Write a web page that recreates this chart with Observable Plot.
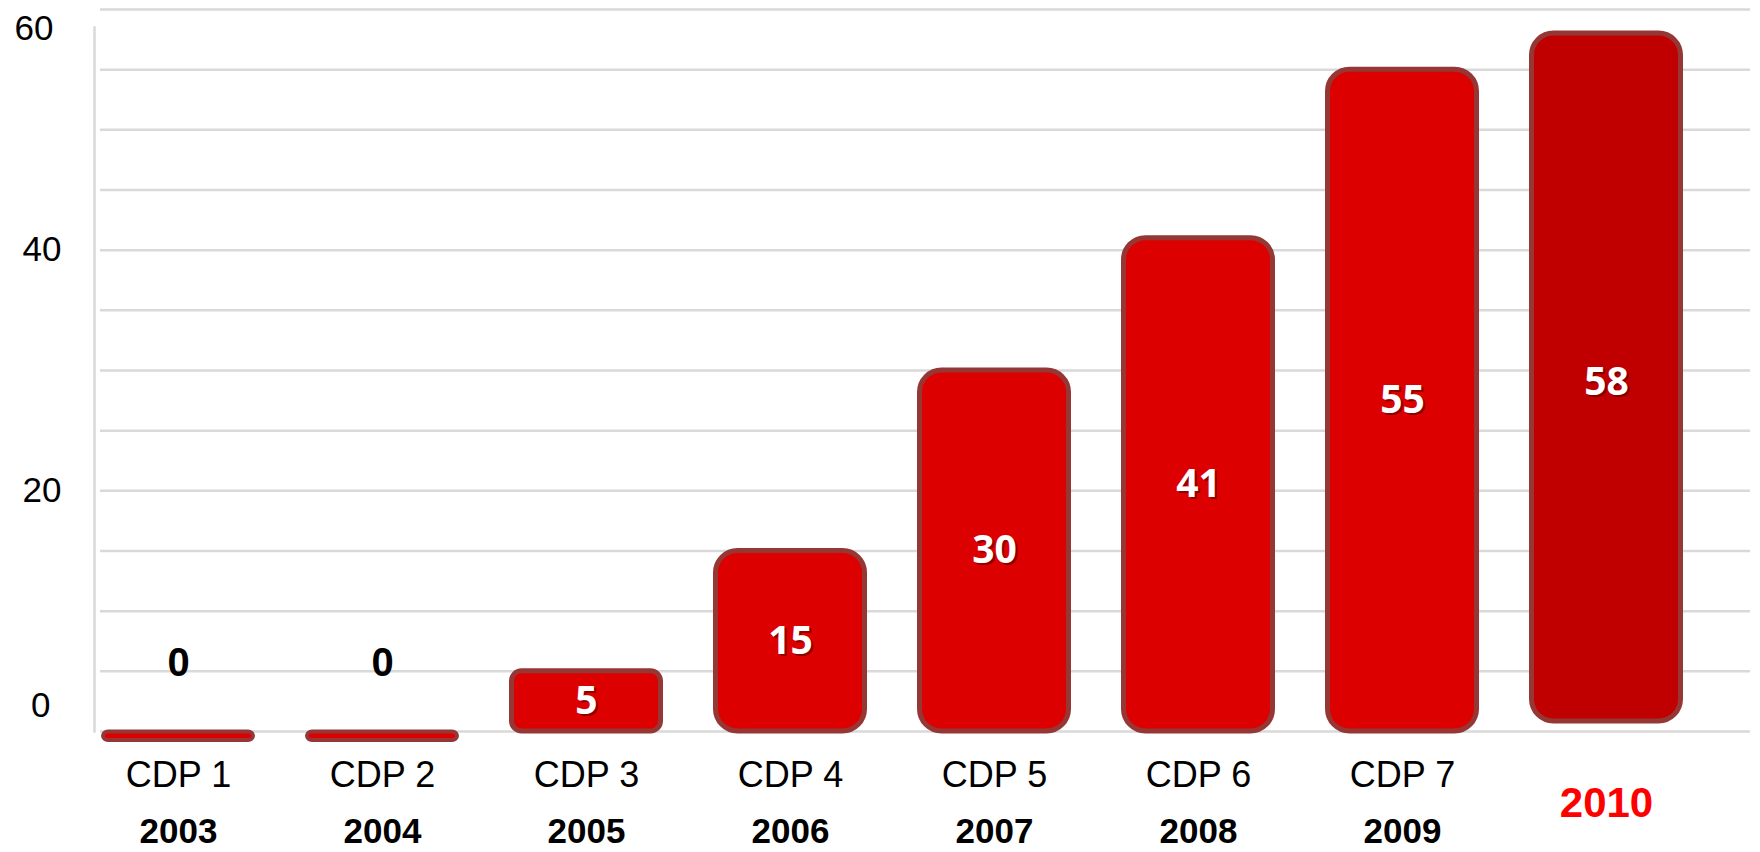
<!DOCTYPE html>
<html>
<head>
<meta charset="utf-8">
<script src="https://cdn.jsdelivr.net/npm/d3@7"></script>
<script src="https://cdn.jsdelivr.net/npm/@observablehq/plot@0.6"></script>
<style>
  html, body { margin: 0; padding: 0; background: #ffffff; }
  #chart svg { display: block; }
</style>
</head>
<body>
<div id="chart"></div>
<script>
// ---- data ----
const years = ["2003", "2004", "2005", "2006", "2007", "2008", "2009", "2010"];
const editions = ["CDP 1", "CDP 2", "CDP 3", "CDP 4", "CDP 5", "CDP 6", "CDP 7", ""];
const values = [0, 0, 5, 15, 30, 41, 55, 58];
const yTickLabels = [0, 20, 40, 60];
const highlightYear = "2010";

// ---- build table ----
const data = years.map((year, i) => ({year, edition: editions[i], value: values[i]}));
const editionOf = Object.fromEntries(data.map(d => [d.year, d.edition]));

const RED = "#dd0000";
const DARK_RED = "#c00000";
const EDGE = "#953735";
const GRID = "#d9d9d9";
const SANS = "Liberation Sans, Arial, sans-serif";

const barMarks = data.map(d => {
  if (d.value === 0) {
    return Plot.barY([d], {
      x: "year", y: "value",
      fill: RED, stroke: EDGE, strokeWidth: 4,
      insetLeft: 2, insetRight: 2, insetTop: 0.5, insetBottom: -9,
      rx: 5
    });
  }
  const hl = d.year === highlightYear;
  return Plot.barY([d], {
    x: "year", y: "value",
    fill: hl ? DARK_RED : RED, stroke: EDGE, strokeWidth: 5,
    insetLeft: 2.5, insetRight: 2.5, insetBottom: hl ? 10 : 0,
    rx: d.value < 10 ? 10 : 22
  });
});

const nonZero = data.filter(d => d.value > 0);
const zeros = data.filter(d => d.value === 0);

const chart = Plot.plot({
  width: 1760,
  height: 852,
  marginLeft: 97,
  marginRight: 10,
  marginTop: 9,
  marginBottom: 121,
  style: {fontFamily: SANS, background: "#ffffff", color: "#000000"},
  x: {type: "band", domain: years, range: [99, 1684], paddingInner: 0.247, paddingOuter: 0, axis: null, label: null},
  y: {domain: [0, 60], axis: null, label: null},
  marks: [
    Plot.gridY({interval: 5, stroke: GRID, strokeOpacity: 1, strokeWidth: 2.5, insetLeft: 3}),
    Plot.frame({anchor: "left", stroke: GRID, strokeOpacity: 1, strokeWidth: 2.5, insetTop: 18, dx: -3}),
    // y axis labels
    Plot.axisY({ticks: yTickLabels.filter(v => v > 0 && v < 60), label: null, tickSize: 0, tickPadding: 36, fontSize: 35, fontFamily: SANS}),
    Plot.axisY({ticks: yTickLabels.filter(v => v === 0), label: null, tickSize: 0, tickPadding: 36, dx: -11, dy: -26, fontSize: 35, fontFamily: SANS}),
    Plot.axisY({ticks: yTickLabels.filter(v => v === 60), label: null, tickSize: 0, tickPadding: 36, dx: -8, dy: 19, fontSize: 35, fontFamily: SANS}),
    ...barMarks,
    // value labels inside bars (with shadow)
    Plot.text(nonZero, {x: "year", y: d => d.value / 2, text: d => String(d.value),
      fill: "#5a0000", fillOpacity: 0.6, dx: 2, dy: 2, fontSize: 39, fontWeight: "bold", fontFamily: "Open Sans, sans-serif"}),
    Plot.text(nonZero, {x: "year", y: d => d.value / 2, text: d => String(d.value),
      fill: "#ffffff", fontSize: 39, fontWeight: "bold", fontFamily: "Open Sans, sans-serif"}),
    // zero labels above
    Plot.text(zeros, {x: "year", y: "value", text: d => String(d.value), dy: -68,
      fill: "#000000", fontSize: 40, fontWeight: "bold", fontFamily: SANS}),
    // x axis: edition labels
    Plot.axisX({label: null, tickSize: 0, tickPadding: 30, tickFormat: y => editionOf[y], fontSize: 36, fontFamily: SANS}),
    // x axis: years
    Plot.axisX({ticks: years.filter(y => y !== highlightYear), label: null, tickSize: 0, tickPadding: 87,
      fontSize: 35, fontWeight: "bold", fontFamily: SANS}),
    Plot.axisX({ticks: [highlightYear], label: null, tickSize: 0, tickPadding: 56,
      fontSize: 42, fontWeight: "bold", fontFamily: SANS, color: "#ff0000", fill: "#ff0000"})
  ]
});

document.getElementById("chart").appendChild(chart);
</script>
</body>
</html>
